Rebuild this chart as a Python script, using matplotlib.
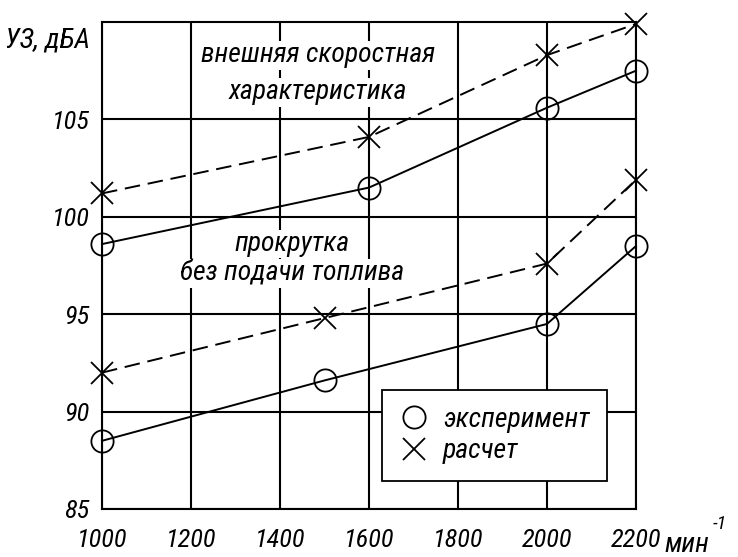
import matplotlib
matplotlib.use('Agg')
import matplotlib.pyplot as plt
from matplotlib import font_manager

# узкий шрифт, если есть; иначе обычный DejaVu
NARROW = ['Liberation Sans Narrow', 'Roboto Condensed', 'Open Sans Condensed',
          'Noto Sans Condensed', 'DejaVu Sans Condensed']
installed = {f.name for f in font_manager.fontManager.ttflist}
condensed = [f for f in font_manager.fontManager.ttflist
             if f.name == 'DejaVu Sans' and f.stretch in ('condensed', 'semi-condensed')]
family = next((n for n in NARROW if n in installed), None)
if family:
    FONT = [family, 'DejaVu Sans']
    FS = 20
elif condensed:
    FONT = ['DejaVu Sans']
    FS = 18
else:
    FONT = ['DejaVu Sans']
    FS = 15
TICK_FS = FS - 1

# частота вращения, мин^-1
rpm_ext = [1000, 1600, 2000, 2200]
rpm_mot = [1000, 1500, 2000, 2200]

# внешняя скоростная характеристика, дБА
ext_exp = [98.6, 101.5, 105.6, 107.5]
ext_calc = [101.2, 104.1, 108.3, 109.9]

# прокрутка без подачи топлива, дБА
mot_exp = [88.5, 91.6, 94.5, 98.5]
mot_calc = [92.0, 94.8, 97.6, 101.9]

x_ticks = [1000, 1200, 1400, 1600, 1800, 2000, 2200]
y_ticks = [85, 90, 95, 100, 105]

plt.rcParams['font.family'] = FONT
plt.rcParams['font.style'] = 'italic'
plt.rcParams['font.stretch'] = 'condensed'

fig = plt.figure(figsize=(7.38, 5.57), dpi=100)
ax = fig.add_axes([102 / 738, 48 / 557, 534 / 738, 487 / 557])

ax.set_xlim(1000, 2200)
ax.set_ylim(85, 110)
ax.set_xticks(x_ticks)
ax.set_yticks(y_ticks)
ax.set_xticklabels([str(v) for v in x_ticks])
ax.set_yticklabels([str(v) for v in y_ticks])
ax.tick_params(length=0, labelsize=TICK_FS)
ax.tick_params(axis='x', pad=14)
ax.tick_params(axis='y', pad=9)
ax.grid(True, color='black', linewidth=1.5)
ax.set_axisbelow(True)
for sp in ax.spines.values():
    sp.set_linewidth(1.5)

dash = (0, (8, 4))
line_kw = dict(color='black', linewidth=1.4, markersize=16,
               markerfacecolor='none', markeredgecolor='black',
               markeredgewidth=1.3, clip_on=False, zorder=3)
ax.plot(rpm_ext, ext_exp, '-o', **line_kw)
ax.plot(rpm_ext, ext_calc, 'x', linestyle=dash, **line_kw)
ax.plot(rpm_mot, mot_exp, '-o', **line_kw)
ax.plot(rpm_mot, mot_calc, 'x', linestyle=dash, **line_kw)

box = dict(facecolor='white', edgecolor='none', pad=1)
ax.text(1485, 108.3, 'внешняя скоростная', ha='center', va='center',
        fontsize=FS, bbox=box, zorder=2)
ax.text(1485, 106.4, 'характеристика', ha='center', va='center',
        fontsize=FS, bbox=box, zorder=2)
ax.text(1427, 98.6, 'прокрутка', ha='center', va='center',
        fontsize=FS, bbox=box, zorder=2)
ax.text(1427, 97.1, 'без подачи топлива', ha='center', va='center',
        fontsize=FS, bbox=box, zorder=2)

# легенда
h_exp, = ax.plot([], [], 'o', markersize=16, markerfacecolor='none',
                 markeredgecolor='black', markeredgewidth=1.3)
h_calc, = ax.plot([], [], 'x', markersize=16, markeredgecolor='black',
                  markeredgewidth=1.3)
leg = ax.legend([h_exp, h_calc], ['эксперимент', 'расчет'],
                loc='upper left', bbox_to_anchor=(382 / 738, (557 - 390) / 557),
                bbox_transform=fig.transFigure, fontsize=FS, frameon=True,
                fancybox=False, framealpha=1, edgecolor='black',
                handlelength=1.1, handletextpad=0.5, borderpad=0.6,
                labelspacing=0.2, borderaxespad=0)
leg.get_frame().set_linewidth(1.3)
leg.set_zorder(5)

fig.text(90 / 738, (557 - 40) / 557, 'УЗ, дБА', ha='right', va='center',
         fontsize=FS)
fig.text(664 / 738, 5 / 557, 'мин', ha='left', va='baseline', fontsize=FS)
fig.text(713 / 738, (557 - 533) / 557, '-1', ha='left', va='bottom',
         fontsize=FS * 0.7)

fig.savefig('out.png', dpi=100)
